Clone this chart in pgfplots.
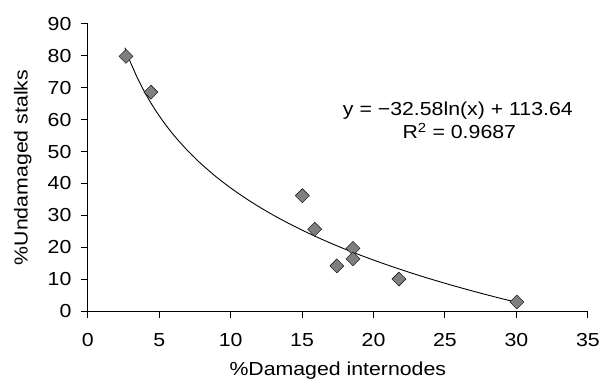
\documentclass[border=0pt]{standalone}
\usepackage{pgfplots}
\pgfplotsset{compat=1.18}
\usepackage{fontspec}
\setmainfont[FakeStretch=1.13]{Liberation Sans}
\definecolor{markgray}{HTML}{7F7F7F}
\newcommand{\chartfont}{\fontsize{19}{23}\selectfont}
\begin{document}
\chartfont
\begin{tikzpicture}
\begin{axis}[
  at={(88.5pt,68pt)}, anchor=south west,
  scale only axis, width=504.5pt, height=290pt,
  xmin=0, xmax=35, ymin=0, ymax=90,
  xtick={0,5,...,35}, ytick={0,10,...,90},
  axis lines=left, axis line style={-, line width=1pt},
  tick style={line width=1pt, black},
  tick align=outside, major tick length=7pt,
  /pgf/number format/assume math mode=true,
  ticklabel style={font=\chartfont},
  xticklabel style={yshift=-9pt},
  yticklabel style={xshift=-3pt},
  xlabel={\%Damaged internodes},
  ylabel={\%Undamaged stalks},
  xlabel style={at={(axis description cs:0.5,0)}, anchor=base, yshift=-64.5pt, font=\chartfont},
  ylabel style={at={(axis description cs:-0.1298,0.5)}, anchor=center, font=\chartfont},
  clip=false,
]
\addplot[black, line width=0.9pt, smooth, no markers] coordinates {
 (2.6,82.51) (2.8,80.10) (3,77.85) (3.5,72.82) (4,68.47) (4.5,64.64) (5,61.20)
 (5.5,58.10) (6,55.26) (6.5,52.66) (7,50.24) (7.5,48.00) (8,45.89) (9,42.05)
 (10,38.62) (11,35.52) (12,32.68) (13,30.07) (14,27.66) (15,25.41) (16,23.31)
 (17,21.33) (18,19.47) (19,17.71) (20,16.04) (21,14.45) (22,12.93) (23,11.48)
 (24,10.10) (25,8.77) (26,7.49) (27,6.26) (28,5.08) (29,3.93) (30,2.83)
};
\addplot[only marks, mark=square*, mark size=5pt, mark options={rotate=45, fill=markgray, draw=none}] coordinates {
 (2.68,79.8) (4.42,68.6) (15.02,36.2) (15.88,25.7) (17.43,14.2)
 (18.56,19.7) (18.56,16.4) (21.78,10.1) (30.03,2.9)
};
\node[anchor=base, inner sep=0pt] at (axis cs:25.9,61.4) {y = −32.58ln(x) + 113.64};
\node[anchor=base, inner sep=0pt] at (axis cs:26.0,54.0) {R\textsuperscript{2} = 0.9687};
\end{axis}
\path[use as bounding box] (0,0) rectangle (606pt,382pt);
\end{tikzpicture}
\end{document}
